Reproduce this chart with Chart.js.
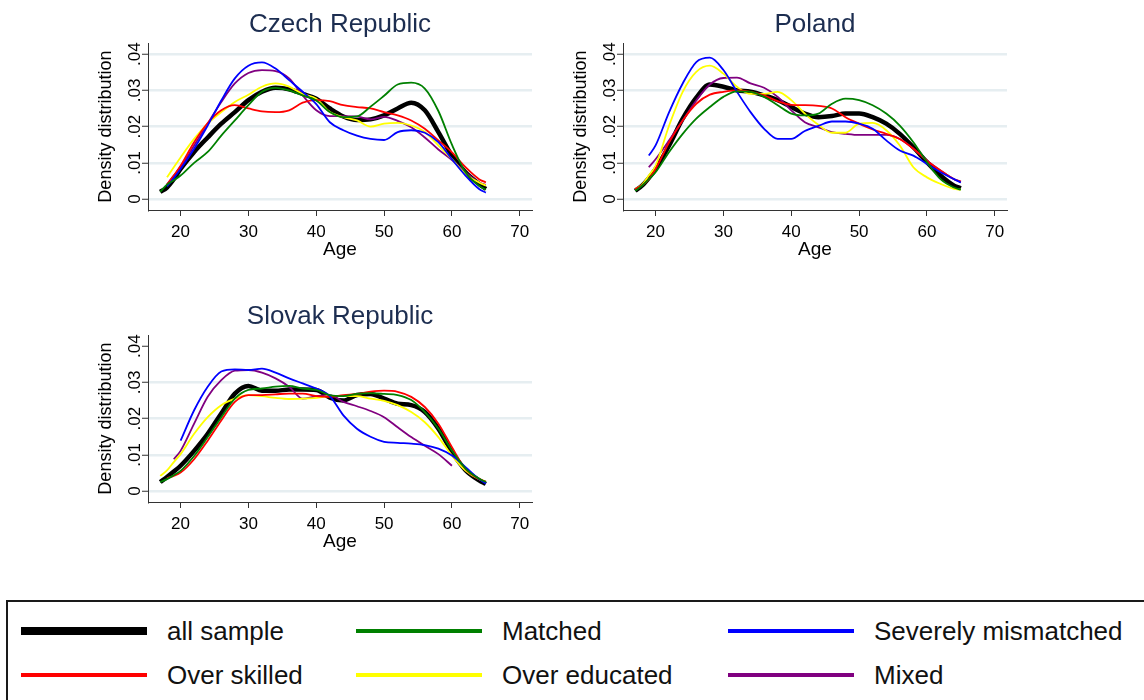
<!DOCTYPE html>
<html>
<head>
<meta charset="utf-8">
<script src="https://cdn.jsdelivr.net/npm/chart.js@4.4.0/dist/chart.umd.min.js"></script>
<style>
  body { margin: 0; background: #fff; width: 1144px; height: 700px; overflow: hidden; position: relative;
         font-family: "Liberation Sans", Arial, sans-serif; }
  canvas.panel { position: absolute; }
  #legend { position: absolute; left: 6px; top: 600px; width: 1200px; height: 200px; border: 2px solid #1a1a1a; }
  .sw { position: absolute; width: 126px; }
  .lt { position: absolute; font-size: 26px; line-height: 30px; color: #111; white-space: nowrap; }
</style>
</head>
<body>
<canvas id="czech" class="panel" width="500" height="270" style="left:90px;top:0px"></canvas>
<canvas id="poland" class="panel" width="500" height="270" style="left:565px;top:0px"></canvas>
<canvas id="slovak" class="panel" width="500" height="270" style="left:90px;top:292px"></canvas>
<div id="legend"></div>
<script>
const FONT = '"Liberation Sans", Arial, sans-serif';

const AGES = [17, 18, 19, 20, 22, 24, 26, 28, 30, 32, 34, 36, 38, 40, 42, 44, 46, 48, 50, 52, 54, 56, 58, 60, 62, 64, 65];
const X_TICKS = [20, 30, 40, 50, 60, 70];
const Y_TICKS = [0, 0.01, 0.02, 0.03, 0.04];
const Y_TICK_LABELS = ['0', '.01', '.02', '.03', '.04'];

const SERIES = ['all sample', 'Matched', 'Severely mismatched', 'Over skilled', 'Over educated', 'Mixed'];
const COLORS = ['#000000', '#008000', '#0000ff', '#ff0000', '#ffff00', '#800080'];

// Czech Republic
const czAll = [.0020, .0032, .0055, .0083, .0130, .0170, .0208, .0240, .0273, .0296, .0307, .0303, .0290, .0277, .0250, .0228, .0218, .0220, .0231, .0250, .0266, .0245, .0185, .0120, .0074, .0042, .0028];
const czMatched = [.0020, .0040, .0052, .0065, .0100, .0130, .0175, .0217, .0259, .0296, .0307, .0300, .0286, .0272, .0240, .0226, .0228, .0255, .0285, .0316, .0321, .0305, .0243, .0150, .0074, .0037, .0026];
const czSevere = [null, .0035, .0058, .0083, .0139, .0203, .0272, .0333, .0368, .0377, .0360, .0328, .0296, .0262, .0212, .0190, .0175, .0166, .0163, .0185, .0190, .0183, .0157, .0110, .0065, .0028, .0018];
const czOverSkilled = [null, .0040, .0065, .0092, .0157, .0210, .0245, .0259, .0250, .0242, .0240, .0245, .0266, .0273, .0270, .0259, .0254, .0250, .0240, .0231, .0217, .0194, .0162, .0129, .0088, .0055, .0046];
const czOverEducated = [null, .0060, .0088, .0115, .0166, .0208, .0240, .0268, .0288, .0310, .0319, .0310, .0290, .0277, .0240, .0226, .0217, .0200, .0208, .0210, .0203, .0185, .0148, .0110, .0069, .0046, .0037];
const czMixed = [null, .0040, .0065, .0088, .0148, .0208, .0268, .0319, .0348, .0356, .0353, .0333, .0286, .0245, .0229, .0229, .0228, .0220, .0227, .0216, .0198, .0170, .0137, .0108, .0074, .0046, .0039];

// Poland
const plAll = [.0023, .0037, .0058, .0083, .0148, .0222, .0280, .0316, .0310, .0300, .0296, .0286, .0273, .0254, .0236, .0226, .0229, .0236, .0236, .0226, .0208, .0180, .0143, .0102, .0065, .0037, .0030];
const plMatched = [.0023, .0037, .0055, .0074, .0130, .0180, .0222, .0254, .0282, .0297, .0296, .0282, .0259, .0236, .0231, .0236, .0263, .0277, .0273, .0259, .0236, .0203, .0157, .0102, .0055, .0032, .0026];
const plSevere = [null, null, .0120, .0148, .0240, .0319, .0378, .0390, .0356, .0296, .0240, .0194, .0166, .0166, .0188, .0202, .0214, .0214, .0208, .0194, .0162, .0134, .0120, .0097, .0074, .0055, .0046];
const plOverSkilled = [.0028, .0038, .0055, .0083, .0157, .0217, .0263, .0288, .0296, .0300, .0296, .0286, .0270, .0260, .0259, .0257, .0250, .0226, .0208, .0192, .0180, .0166, .0139, .0106, .0079, .0055, .0048];
const plOverEducated = [.0028, .0040, .0065, .0092, .0203, .0296, .0351, .0368, .0346, .0310, .0290, .0290, .0296, .0273, .0236, .0205, .0183, .0183, .0208, .0210, .0190, .0148, .0088, .0060, .0042, .0028, .0026];
const plMixed = [null, null, .0088, .0110, .0162, .0217, .0272, .0316, .0334, .0335, .0319, .0307, .0282, .0245, .0212, .0198, .0185, .0180, .0177, .0177, .0177, .0166, .0139, .0106, .0079, .0055, .0048];

// Slovak Republic
const skAll = [.0025, .0039, .0054, .0070, .0111, .0158, .0214, .0269, .0290, .0277, .0277, .0280, .0280, .0279, .0258, .0250, .0265, .0268, .0255, .0241, .0237, .0218, .0172, .0108, .0058, .0030, .0020];
const skMatched = [.0025, .0033, .0044, .0056, .0097, .0149, .0204, .0255, .0279, .0283, .0288, .0290, .0283, .0279, .0265, .0262, .0268, .0270, .0268, .0265, .0251, .0218, .0172, .0112, .0062, .0034, .0025];
const skSevere = [null, null, null, .0139, .0223, .0288, .0330, .0336, .0334, .0338, .0327, .0311, .0297, .0283, .0262, .0209, .0172, .0150, .0136, .0133, .0131, .0127, .0117, .0098, .0066, .0033, .0021];
const skOverSkilled = [null, .0036, .0042, .0051, .0088, .0139, .0195, .0246, .0265, .0265, .0267, .0269, .0269, .0262, .0260, .0265, .0268, .0274, .0277, .0274, .0260, .0232, .0186, .0121, .0061, .0033, .0026];
const skOverEducated = [.0042, .0057, .0080, .0102, .0158, .0204, .0237, .0255, .0265, .0262, .0257, .0254, .0255, .0257, .0262, .0262, .0262, .0255, .0249, .0237, .0218, .0190, .0149, .0098, .0057, .0033, .0026];
const skMixed = [null, null, .0088, .0111, .0186, .0260, .0306, .0332, .0334, .0327, .0311, .0288, .0255, .0262, .0265, .0246, .0234, .0221, .0204, .0176, .0149, .0125, .0102, .0070, null, null, null];

const yTickText = {
  id: 'yTickText',
  afterDraw(chart) {
    const s = chart.scales.y;
    const ctx = chart.ctx;
    ctx.save();
    ctx.font = '17px ' + FONT;
    ctx.fillStyle = '#000';
    ctx.textAlign = 'center';
    ctx.textBaseline = 'alphabetic';
    Y_TICKS.forEach((v, i) => {
      ctx.save();
      ctx.translate(s.right - 8, s.getPixelForValue(v));
      ctx.rotate(-Math.PI / 2);
      ctx.fillText(Y_TICK_LABELS[i], 0, 0);
      ctx.restore();
    });
    ctx.restore();
  }
};

function makePanel(id, title, seriesData, hideTopGrid) {
  const datasets = seriesData.map((vals, i) => ({
    label: SERIES[i],
    data: AGES.map((a, j) => ({ x: a, y: vals[j] })),
    borderColor: COLORS[i],
    borderWidth: i === 0 ? 4.5 : 1.8,
    pointRadius: 0,
    fill: false,
    cubicInterpolationMode: 'monotone',
    order: i === 0 ? 10 : 0,
    xAxisID: 'x',
    yAxisID: 'y'
  }));

  return new Chart(document.getElementById(id), {
    type: 'line',
    data: { datasets: datasets },
    plugins: [yTickText],
    options: {
      responsive: false,
      animation: false,
      devicePixelRatio: 1,
      layout: { padding: 0 },
      plugins: {
        legend: { display: false },
        tooltip: { enabled: false },
        title: {
          display: true,
          text: title,
          color: '#1c2d50',
          font: { size: 26, family: FONT, weight: 'normal' },
          padding: { top: 9, bottom: 3 }
        }
      },
      scales: {
        x: {
          type: 'linear',
          min: 15.2,
          max: 71.8,
          afterBuildTicks: s => { s.ticks = X_TICKS.map(v => ({ value: v })); },
          afterFit: s => { s.height = 60; },
          grid: { drawOnChartArea: false, drawTicks: true, tickLength: 6, tickColor: '#333', tickWidth: 1 },
          border: { color: '#333', width: 1 },
          ticks: { color: '#000', font: { size: 17, family: FONT }, padding: 6, maxRotation: 0, autoSkip: false },
          title: { display: true, text: 'Age', color: '#000', font: { size: 19, family: FONT }, padding: { top: 0, bottom: 9 } }
        },
        y: {
          type: 'linear',
          min: -0.003,
          max: 0.043,
          afterBuildTicks: s => { s.ticks = Y_TICKS.map(v => ({ value: v })); },
          afterFit: s => { s.width = 58; },
          grid: {
            color: c => (hideTopGrid && c.tick && c.tick.value === 0.04) ? 'rgba(0,0,0,0)' : '#e6eef1',
            lineWidth: 2.5,
            drawTicks: true,
            tickLength: 6,
            tickColor: '#333',
            tickWidth: 1
          },
          border: { color: '#333', width: 1 },
          ticks: { display: false },
          title: { display: true, text: 'Density distribution', color: '#000', font: { size: 18, family: FONT }, padding: { top: 5.5, bottom: 0 } }
        },
        yr: {
          type: 'linear',
          position: 'right',
          grid: { display: false },
          ticks: { display: false },
          border: { display: false },
          afterFit: s => { s.width = 58; }
        }
      }
    }
  });
}

makePanel('czech', 'Czech Republic', [czAll, czMatched, czSevere, czOverSkilled, czOverEducated, czMixed], false);
makePanel('poland', 'Poland', [plAll, plMatched, plSevere, plOverSkilled, plOverEducated, plMixed], false);
makePanel('slovak', 'Slovak Republic', [skAll, skMatched, skSevere, skOverSkilled, skOverEducated, skMixed], true);

// legend box below the panels
const legend = document.getElementById('legend');
const colSwatchX = [13, 348, 720];
const colTextX = [159, 494, 866];
const rowCenterY = [29, 73];
SERIES.forEach((name, k) => {
  const col = k % 3, row = Math.floor(k / 3);
  const thick = k === 0 ? 8 : 4;
  const sw = document.createElement('div');
  sw.className = 'sw';
  sw.style.left = colSwatchX[col] + 'px';
  sw.style.top = (rowCenterY[row] - thick / 2) + 'px';
  sw.style.height = thick + 'px';
  sw.style.background = COLORS[k];
  legend.appendChild(sw);
  const t = document.createElement('div');
  t.className = 'lt';
  t.style.left = colTextX[col] + 'px';
  t.style.top = (rowCenterY[row] - 15) + 'px';
  t.textContent = name;
  legend.appendChild(t);
});
</script>
</body>
</html>
